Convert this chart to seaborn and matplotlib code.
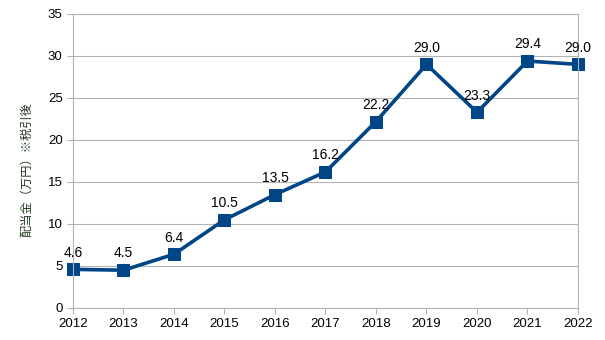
import matplotlib
matplotlib.use("Agg")
import matplotlib.pyplot as plt
import seaborn as sns
import pandas as pd

years = [2012, 2013, 2014, 2015, 2016, 2017, 2018, 2019, 2020, 2021, 2022]
dividends = [4.6, 4.5, 6.4, 10.5, 13.5, 16.2, 22.2, 29.0, 23.3, 29.4, 29.0]
y_ticks = [0, 5, 10, 15, 20, 25, 30, 35]
y_label = "配当金（万円）※税引後"

df = pd.DataFrame({"year": years, "value": dividends})

sns.set_theme(style="white")
plt.rcParams['font.family'] = ['Liberation Sans', 'Noto Sans CJK JP', 'DejaVu Sans']

fig = plt.figure(figsize=(6.05, 3.4), dpi=100)
ax = fig.add_axes([73/605, 1-308/340, (578-73)/605, (308-14)/340])

color = "#004586"
sns.lineplot(data=df, x="year", y="value", ax=ax, color=color, linewidth=2.6,
             marker="s", markersize=8, markeredgecolor=color, markerfacecolor=color)

for x, v in zip(years, dividends):
    ax.annotate(f"{v:.1f}", (x, v), textcoords="offset points", xytext=(0, 7),
                ha="center", va="bottom", fontsize=10, color="black")

ax.set_xlim(years[0], years[-1])
ax.set_ylim(0, 35)
ax.set_yticks(y_ticks)
ax.set_xticks(years)
ax.set_xticklabels([str(y) for y in years])
ax.yaxis.grid(True, color="#b3b3b3", linewidth=0.8)
ax.xaxis.grid(False)
ax.set_axisbelow(True)
for s in ["left", "right"]:
    ax.spines[s].set_visible(True)
    ax.spines[s].set_color("#b3b3b3")
    ax.spines[s].set_linewidth(0.8)
ax.spines["top"].set_visible(False)
ax.spines["bottom"].set_color("#b3b3b3")
ax.spines["bottom"].set_linewidth(0.8)
ax.tick_params(axis="both", which="both", length=4, color="#b3b3b3", width=0.8,
               labelsize=9.5, labelcolor="black", direction="out", left=True, bottom=True)
ax.set_xlabel("")
ax.set_ylabel(y_label, fontsize=8.8, color="#1f3b1f", family=['Noto Sans CJK JP', 'DejaVu Sans'])
ax.yaxis.set_label_coords(-40/505, (308-170)/294)
for lbl in ax.get_xticklabels() + ax.get_yticklabels():
    lbl.set_clip_on(False)
ax.lines[0].set_clip_on(False)

fig.savefig("out.png", dpi=100)
